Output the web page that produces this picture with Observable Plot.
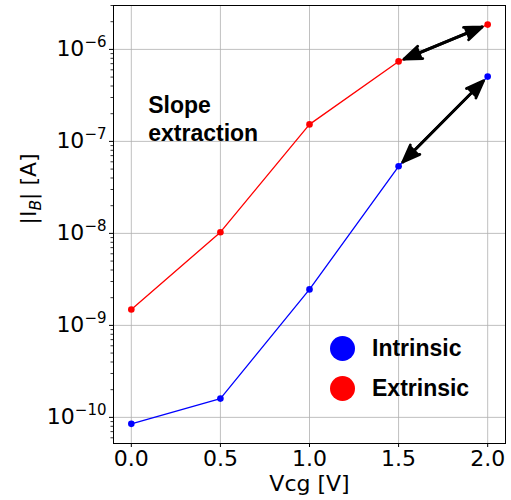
<!DOCTYPE html>
<html><head><meta charset="utf-8">
<script src="https://cdn.jsdelivr.net/npm/d3@7"></script>
<script src="https://cdn.jsdelivr.net/npm/@observablehq/plot@0.6"></script>
<style>
body{margin:0;background:#fff}
#wrap{position:relative;width:511px;height:500px}
.leg{position:absolute;left:330px;font-family:"Liberation Sans",Arial,sans-serif;font-weight:bold;font-size:23px;display:flex;align-items:center;height:30px}
.leg span.c{display:inline-block;width:25px;height:25px;border-radius:50%;margin-right:17px}
</style>
</head><body><div id="wrap"></div>
<script>
const vcg = [0.0, 0.5, 1.0, 1.5, 2.0];
const intrinsic = [8.5e-11, 1.6e-10, 2.46e-9, 5.36e-8, 5.06e-7];
const extrinsic = [1.49e-9, 1.03e-8, 1.53e-7, 7.4e-7, 1.86e-6];
const seriesNames = ["Intrinsic", "Extrinsic"];
const seriesColors = ["blue", "red"];
const xTicks = [0.0, 0.5, 1.0, 1.5, 2.0];
const yExponents = [-10, -9, -8, -7, -6];
const arrowFrom = [{x: 1.5, y: 7.4e-7}, {x: 1.5, y: 5.36e-8}];
const arrowTo = [{x: 2.0, y: 1.86e-6}, {x: 2.0, y: 5.06e-7}];
const annotation = [{x: 0.095, y: 1.8e-7, text: "Slope\nextraction"}];
const xLabel = "Vcg [V]";

const rows = [];
[intrinsic, extrinsic].forEach((vals, s) => vals.forEach((v, i) => rows.push({series: seriesNames[s], x: vcg[i], y: v})));
const yTicks = yExponents.map(e => Math.pow(10, e));
const minorTicks = [];
for (let e = -11; e <= -6; e++) for (let m = 2; m <= 9; m++) {
  const v = m * Math.pow(10, e);
  if (v >= 5.2e-11 && v <= 3.0e-6) minorTicks.push(v);
}
const arrowPairs = arrowFrom.map((a, i) => ({x1: a.x, y1: a.y, x2: arrowTo[i].x, y2: arrowTo[i].y}));

const arrowStyle = {stroke: "black", fill: "black", strokeWidth: 2.8, headLength: 10, headAngle: 42, inset: 6, strokeLinejoin: "miter"};

const chart = Plot.plot({
  width: 511, height: 500,
  marginLeft: 113, marginRight: 6, marginTop: 5, marginBottom: 57,
  style: {fontFamily: "DejaVu Sans", fontSize: "22px", color: "black", background: "white"},
  x: {domain: [-0.1, 2.1]},
  y: {type: "log", domain: [5.2e-11, 3.0e-6]},
  color: {domain: seriesNames, range: seriesColors},
  marks: [
    Plot.gridX(xTicks, {stroke: "#b0b0b0", strokeOpacity: 0.8, strokeWidth: 1}),
    Plot.gridY(yTicks, {stroke: "#b0b0b0", strokeOpacity: 0.8, strokeWidth: 1}),
    Plot.axisY(minorTicks, {tickSize: 2.5, tickFormat: () => "", label: null, strokeWidth: 0.8}),
    Plot.axisY(yTicks, {tickSize: 4, tickPadding: 3, tickFormat: e => "10", label: null, className: "yt"}),
    Plot.axisX(xTicks, {tickSize: 4, tickPadding: 3, tickFormat: d => d.toFixed(1), label: null}),
    Plot.line(rows, {x: "x", y: "y", z: "series", stroke: "series", strokeWidth: 1.3}),
    Plot.dot(rows, {x: "x", y: "y", fill: "series", r: 3.3}),
    Plot.arrow(arrowPairs, {x1: "x1", y1: "y1", x2: "x2", y2: "y2", ...arrowStyle}),
    Plot.arrow(arrowPairs, {x1: "x2", y1: "y2", x2: "x1", y2: "y1", ...arrowStyle}),
    Plot.text(annotation, {x: "x", y: "y", text: "text", textAnchor: "start", fontFamily: "Liberation Sans", fontWeight: "bold", fontSize: 23, lineHeight: 1.22}),
    Plot.text([xLabel], {frameAnchor: "bottom", dy: 47, text: d => d, fontSize: 22}),
    Plot.text(["|I"], {frameAnchor: "left", dx: -85, rotate: -90, text: d => d, fontSize: 22, className: "ylab"}),
    Plot.frame({stroke: "black", strokeWidth: 1})
  ]
});
document.getElementById("wrap").appendChild(chart);

// superscript tick labels
d3.select(chart).selectAll(".yt text").each(function(d, i) {
  const t = d3.select(this);
  t.text("10");
  t.append("tspan").attr("dy", "-9.5px").attr("font-size", "15px").text("\u2212" + Math.abs(yExponents[i]));
});
// y label with subscript
const yl = d3.select(chart).select(".ylab text");
yl.text("|I");
yl.append("tspan").attr("dy", "5px").attr("font-size", "15.5px").attr("font-style", "italic").text("B");
yl.append("tspan").attr("dy", "-5px").text("| [A]");

// legend
const wrap = document.getElementById("wrap");
seriesNames.forEach((n, i) => {
  const div = document.createElement("div");
  div.className = "leg";
  div.style.top = (333 + i * 40) + "px";
  div.innerHTML = `<span class="c" style="background:${seriesColors[i]}"></span>${n}`;
  wrap.appendChild(div);
});
</script>
</body></html>
